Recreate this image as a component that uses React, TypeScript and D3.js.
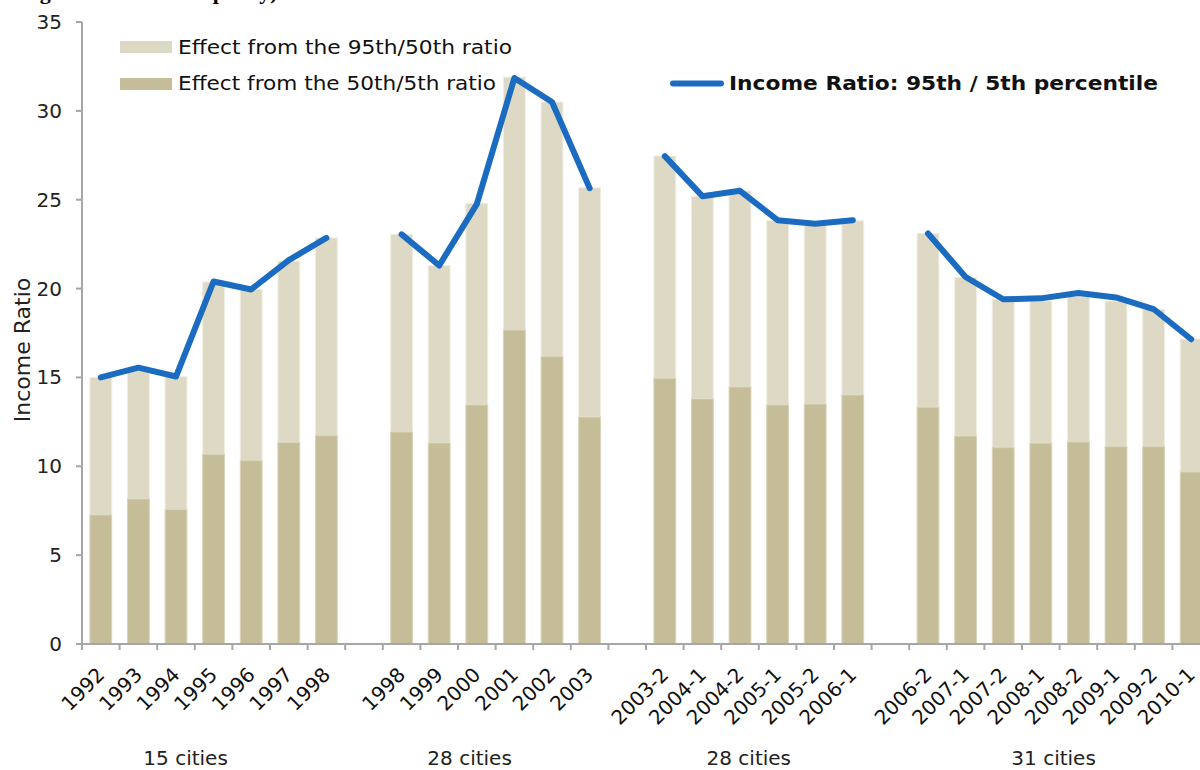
import React from 'react';
import * as d3 from 'd3';

// city groups, each drawn as its own block of bars
const groupNames = ['15 cities', '28 cities', '28 cities', '31 cities'];

const g1Periods = ['1992', '1993', '1994', '1995', '1996', '1997', '1998'];
const g2Periods = ['1998', '1999', '2000', '2001', '2002', '2003'];
const g3Periods = ['2003-2', '2004-1', '2004-2', '2005-1', '2005-2', '2006-1'];
const g4Periods = ['2006-2', '2007-1', '2007-2', '2008-1', '2008-2', '2009-1', '2009-2', '2010-1'];

// Effect from the 50th/5th ratio (lower segment)
const g1Low = [7.26, 8.16, 7.56, 10.67, 10.32, 11.33, 11.72];
const g2Low = [11.93, 11.31, 13.45, 17.67, 16.17, 12.77];
const g3Low = [14.95, 13.79, 14.46, 13.45, 13.5, 14.01];
const g4Low = [13.32, 11.7, 11.05, 11.3, 11.37, 11.1, 11.1, 9.68];

// Effect from the 95th/50th ratio (upper segment)
const g1High = [7.74, 7.34, 7.48, 9.7, 9.64, 10.22, 11.13];
const g2High = [11.12, 9.98, 11.35, 14.23, 14.33, 12.91];
const g3High = [12.51, 11.41, 11.03, 10.37, 10.17, 9.81];
const g4High = [9.78, 8.93, 8.35, 8.0, 8.18, 8.2, 7.73, 7.48];

// Income Ratio: 95th / 5th percentile
const g1Ratio = [15.0, 15.55, 15.05, 20.4, 19.95, 21.6, 22.85];
const g2Ratio = [23.05, 21.3, 24.75, 31.85, 30.5, 25.65];
const g3Ratio = [27.45, 25.2, 25.5, 23.85, 23.65, 23.85];
const g4Ratio = [23.1, 20.65, 19.4, 19.45, 19.75, 19.5, 18.85, 17.15];

const yTicks = [0, 5, 10, 15, 20, 25, 30, 35];

const periods = [g1Periods, g2Periods, g3Periods, g4Periods];
const lows = [g1Low, g2Low, g3Low, g4Low];
const highs = [g1High, g2High, g3High, g4High];
const ratios = [g1Ratio, g2Ratio, g3Ratio, g4Ratio];

const HIGH_COLOR = '#DDD9C4';
const LOW_COLOR = '#C4BD97';
const LINE_COLOR = '#1B6CC1';
const AXIS_COLOR = '#A6A6A6';
const FONT = '"DejaVu Sans", Verdana, sans-serif';

interface Slot {
  key: string;
  label: string;
  group: number;
  low: number;
  high: number;
  ratio: number;
}

const App: React.FC = () => {
  const width = 1200;
  const height = 770;
  const left = 82;
  const step = 37.6;

  // one slot per bar, plus an empty slot between groups
  const slots: Slot[] = [];
  periods.forEach((ps, gi) => {
    if (gi > 0) slots.push({ key: `gap-${gi}`, label: '', group: -1, low: 0, high: 0, ratio: 0 });
    ps.forEach((p, i) => {
      slots.push({ key: `${gi}-${p}`, label: p, group: gi, low: lows[gi][i], high: highs[gi][i], ratio: ratios[gi][i] });
    });
  });

  const x = d3.scaleBand<string>()
    .domain(slots.map(s => s.key))
    .range([left, left + step * slots.length])
    .paddingInner(0.42)
    .paddingOuter(0.21);

  const y = d3.scaleLinear().domain([0, 35]).range([644, 22]);

  const cx = (k: string) => (x(k) || 0) + x.bandwidth() / 2;
  const bars = slots.filter(s => s.group >= 0);

  const line = d3.line<Slot>()
    .x(d => cx(d.key))
    .y(d => y(d.ratio));

  // boundary tick positions (between categories)
  const boundaries = d3.range(slots.length + 1).map(i => left + i * step);

  // group label nudges to sit where the original put them
  const groupNudge = [-28, -26, -10, -6];

  return (
    <svg width={width} height={height} style={{ position: 'absolute', left: 0, top: 0, background: '#fff' }}>
      {/* cut-off heading from the page above */}
      <text x={8} y={-1} fontFamily='"Liberation Serif", serif' fontWeight="bold" fontSize={22} fill="#000">
        Wage and Income Disparity)
      </text>

      {/* bars */}
      {bars.map(s => (
        <g key={s.key}>
          <rect x={x(s.key)} y={y(s.low + s.high)} width={x.bandwidth()} height={y(s.low) - y(s.low + s.high)}
            fill={HIGH_COLOR} stroke="#EFEDE3" strokeWidth={1} />
          <rect x={x(s.key)} y={y(s.low)} width={x.bandwidth()} height={y(0) - y(s.low)}
            fill={LOW_COLOR} stroke="#D8D3B8" strokeWidth={1} />
        </g>
      ))}

      {/* axes */}
      <line x1={left} x2={width} y1={y(0)} y2={y(0)} stroke={AXIS_COLOR} strokeWidth={2} />
      <line x1={left} x2={left} y1={y(35)} y2={y(0)} stroke={AXIS_COLOR} strokeWidth={2} />
      {yTicks.map(t => (
        <g key={t}>
          <line x1={left - 6} x2={left} y1={y(t)} y2={y(t)} stroke={AXIS_COLOR} strokeWidth={2} />
          <text x={62} y={y(t) + 7} textAnchor="end" fontFamily={FONT} fontSize={20} fill="#222">{t}</text>
        </g>
      ))}
      {boundaries.map((bx, i) => (
        <line key={i} x1={bx} x2={bx} y1={y(0)} y2={y(0) + 6} stroke={AXIS_COLOR} strokeWidth={2} />
      ))}
      {bars.map(s => (
        <text key={s.key} transform={`translate(${cx(s.key) + 5},676) rotate(-45)`} textAnchor="end"
          fontFamily={FONT} fontSize={20} fill="#111">{s.label}</text>
      ))}
      {groupNames.map((name, gi) => {
        const ps = periods[gi];
        const x0 = cx(`${gi}-${ps[0]}`);
        const x1 = cx(`${gi}-${ps[ps.length - 1]}`);
        return (
          <text key={gi} x={(x0 + x1) / 2 + groupNudge[gi]} y={765} textAnchor="middle"
            fontFamily={FONT} fontSize={20} fill="#222">{name}</text>
        );
      })}
      <text transform="translate(30,350) rotate(-90)" textAnchor="middle"
        fontFamily={FONT} fontSize={22} fill="#222">Income Ratio</text>

      {/* ratio line, broken between groups */}
      {periods.map((ps, gi) => (
        <path key={gi} d={line(bars.filter(s => s.group === gi)) || ''} fill="none" stroke={LINE_COLOR}
          strokeWidth={6} strokeLinecap="round" strokeLinejoin="round" />
      ))}

      {/* legend */}
      <rect x={120} y={41} width={52} height={12} fill={HIGH_COLOR} />
      <text x={178} y={54} fontFamily={FONT} fontSize={20} fill="#111" textLength={334} lengthAdjust="spacingAndGlyphs">
        Effect from the 95th/50th ratio
      </text>
      <rect x={120} y={78} width={52} height={12} fill={LOW_COLOR} />
      <text x={178} y={90} fontFamily={FONT} fontSize={20} fill="#111" textLength={318} lengthAdjust="spacingAndGlyphs">
        Effect from the 50th/5th ratio
      </text>
      <line x1={673} x2={721} y1={83.5} y2={83.5} stroke={LINE_COLOR} strokeWidth={6} strokeLinecap="round" />
      <text x={729} y={90} fontFamily={FONT} fontWeight="bold" fontSize={19} fill="#111" textLength={429} lengthAdjust="spacingAndGlyphs">
        Income Ratio: 95th / 5th percentile
      </text>
    </svg>
  );
};

export default App;
